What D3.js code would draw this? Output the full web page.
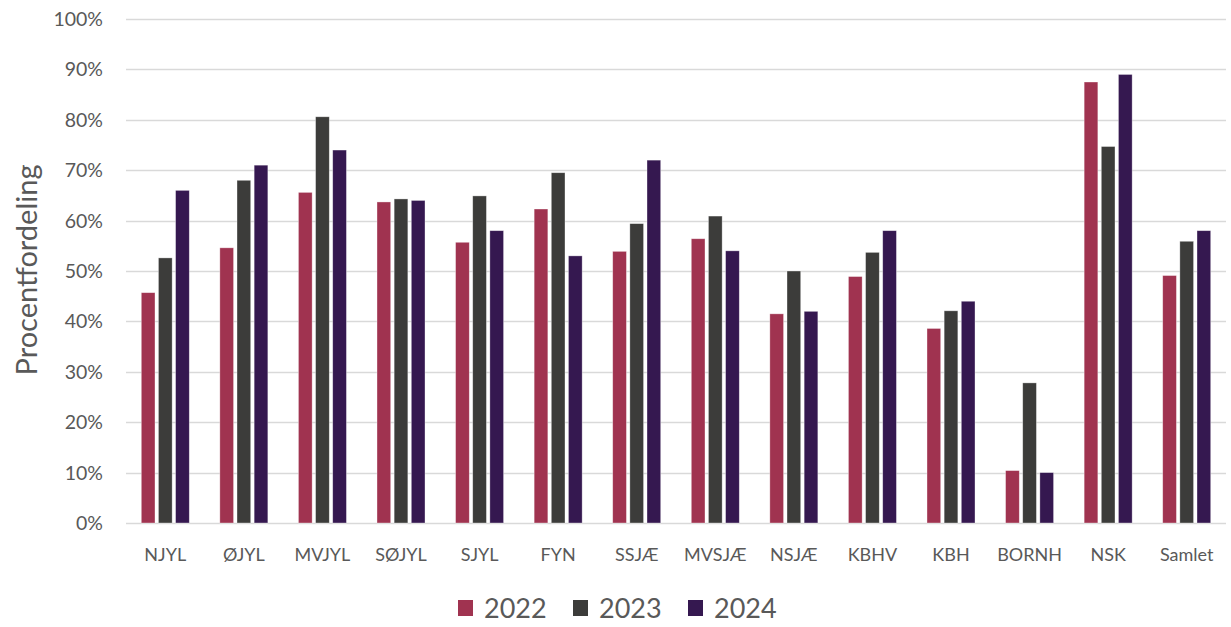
<!DOCTYPE html>
<html>
<head>
<meta charset="utf-8">
<script src="https://cdn.jsdelivr.net/npm/d3@7"></script>
<style>
  html, body { margin: 0; padding: 0; background: #fff; }
  svg { display: block; }
  text { font-family: Lato, "Open Sans", sans-serif; fill: #595959; }
</style>
</head>
<body>
<svg id="chart" width="1231" height="627"></svg>
<script>
const categories = ["NJYL","ØJYL","MVJYL","SØJYL","SJYL","FYN","SSJÆ","MVSJÆ","NSJÆ","KBHV","KBH","BORNH","NSK","Samlet"];
const years = ["2022","2023","2024"];
const values2022 = [45.7, 54.6, 65.6, 63.7, 55.7, 62.3, 53.9, 56.4, 41.5, 48.9, 38.6, 10.4, 87.5, 49.1];
const values2023 = [52.6, 68.0, 80.6, 64.3, 64.9, 69.5, 59.4, 60.9, 50.0, 53.7, 42.1, 27.8, 74.7, 55.9];
const values2024 = [66.0, 71.0, 74.0, 64.0, 58.0, 53.0, 72.0, 54.0, 42.0, 58.0, 44.0, 10.0, 89.0, 58.0];
const yTicks = [0,10,20,30,40,50,60,70,80,90,100];
const colors = ["#A03350", "#3C3C3A", "#351850"];
const yTitle = "Procentfordeling";

const series = [values2022, values2023, values2024];

(function () {
const svg = d3.select("#chart");
const mLeft = 126, mRight = 1226, mTop = 19, mBottom = 523;

const x = d3.scaleBand().domain(categories).range([mLeft, mRight]).paddingInner(0.389).paddingOuter(0.1945);
const xs = d3.scaleBand().domain(years).range([0, x.bandwidth()]).paddingInner(0.2);
const y = d3.scaleLinear().domain([0, 100]).range([mBottom, mTop]);

// gridlines
svg.append("g").selectAll("line").data(yTicks).join("line")
  .attr("x1", mLeft).attr("x2", mRight)
  .attr("y1", d => Math.round(y(d)) + 0.5).attr("y2", d => Math.round(y(d)) + 0.5)
  .attr("stroke", "#d9d9d9").attr("stroke-width", 1.3);

// y tick labels
svg.append("g").selectAll("text").data(yTicks).join("text")
  .attr("x", 103).attr("y", d => y(d)).attr("dy", "0.36em")
  .attr("text-anchor", "end").style("font-size", "19.5px")
  .text(d => d + "%");

// bars
const rows = [];
categories.forEach((c, i) => years.forEach((yr, j) => rows.push({c, yr, j, v: series[j][i]})));
svg.append("g").selectAll("rect").data(rows).join("rect")
  .attr("x", d => x(d.c) + xs(d.yr))
  .attr("width", xs.bandwidth())
  .attr("y", d => y(d.v))
  .attr("height", d => y(0) - y(d.v))
  .attr("fill", d => colors[d.j])
  .attr("stroke", "#ffffff").attr("stroke-opacity", 0.5).attr("stroke-width", 0.7);

// x labels
svg.append("g").selectAll("text").data(categories).join("text")
  .attr("x", d => x(d) + x.bandwidth() / 2).attr("y", 561)
  .attr("text-anchor", "middle").style("font-size", "18px")
  .text(d => d);

// y title
svg.append("text")
  .attr("transform", "translate(37,270) rotate(-90)")
  .attr("text-anchor", "middle").style("font-size", "29px")
  .text(yTitle);

// legend
const legX = [458, 573, 688];
const leg = svg.append("g").selectAll("g").data(years).join("g")
  .attr("transform", (d, i) => `translate(${legX[i]},608)`);
leg.append("rect").attr("x", 0).attr("y", -8).attr("width", 15).attr("height", 16)
  .attr("fill", (d, i) => colors[i]);
leg.append("text").attr("x", 26).attr("y", 0).attr("dy", "0.36em")
  .style("font-size", "27px").text(d => d);
})();
</script>
</body>
</html>
